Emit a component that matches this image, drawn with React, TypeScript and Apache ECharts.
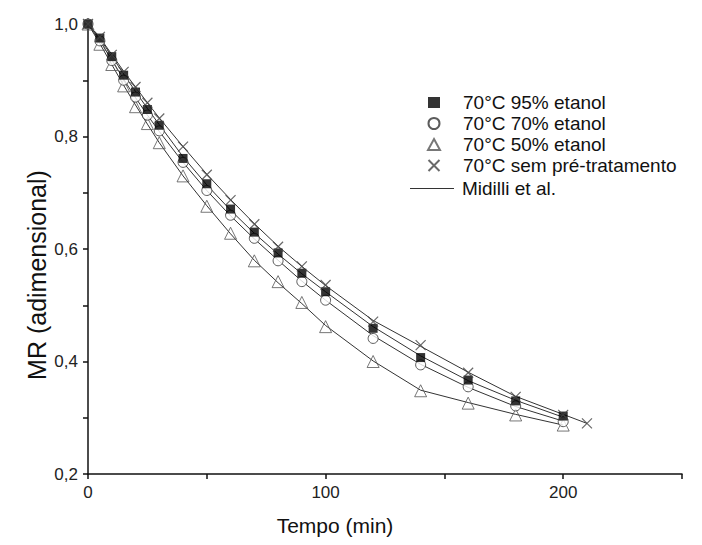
import React, { useEffect, useRef } from "react";
import * as echarts from "echarts";

const times = [0, 5, 10, 15, 20, 25, 30, 40, 50, 60, 70, 80, 90, 100, 120, 140, 160, 180, 200];
const timesX = [0, 5, 10, 15, 20, 25, 30, 40, 50, 60, 70, 80, 90, 100, 120, 140, 160, 180, 200, 210];

const etanol95 = [1.0, 0.975, 0.942, 0.909, 0.879, 0.848, 0.82, 0.761, 0.716, 0.671, 0.63, 0.593, 0.557, 0.524, 0.459, 0.407, 0.367, 0.33, 0.303];
const etanol70 = [1.0, 0.97, 0.935, 0.9, 0.87, 0.838, 0.81, 0.754, 0.704, 0.66, 0.619, 0.579, 0.542, 0.509, 0.441, 0.394, 0.355, 0.321, 0.293];
const etanol50 = [1.0, 0.964, 0.928, 0.89, 0.853, 0.823, 0.789, 0.73, 0.676, 0.628, 0.579, 0.542, 0.505, 0.462, 0.4, 0.348, 0.326, 0.305, 0.287];
const semPre = [1.0, 0.977, 0.945, 0.915, 0.888, 0.86, 0.832, 0.782, 0.732, 0.687, 0.644, 0.604, 0.569, 0.536, 0.471, 0.429, 0.38, 0.337, 0.305, 0.29];

const fit95 = [1.0, 0.974, 0.943, 0.911, 0.88, 0.85, 0.821, 0.764, 0.714, 0.669, 0.628, 0.591, 0.556, 0.524, 0.462, 0.41, 0.366, 0.331, 0.301];
const fit70 = [1.0, 0.97, 0.936, 0.902, 0.869, 0.838, 0.809, 0.754, 0.704, 0.659, 0.618, 0.58, 0.543, 0.509, 0.446, 0.395, 0.354, 0.32, 0.294];
const fit50 = [1.0, 0.965, 0.928, 0.891, 0.856, 0.822, 0.789, 0.73, 0.677, 0.627, 0.58, 0.54, 0.503, 0.464, 0.401, 0.349, 0.327, 0.306, 0.287];
const fitSem = [1.0, 0.976, 0.946, 0.916, 0.888, 0.86, 0.833, 0.782, 0.733, 0.688, 0.645, 0.605, 0.569, 0.535, 0.473, 0.427, 0.381, 0.338, 0.306, 0.29];

const seriesNames = ["70°C 95% etanol", "70°C 70% etanol", "70°C 50% etanol", "70°C sem pré-tratamento"];
const fitName = "Midilli et al.";

const xLabels = [0, 100, 200];
const yLabels = [0.2, 0.4, 0.6, 0.8, 1.0];

const pair = (xs: number[], ys: number[]) => xs.map((x, i) => [x, ys[i]]);

const FONT = "'Liberation Sans', Arial, Helvetica, sans-serif";
const CROSS = "path://M0,0L10,10M10,0L0,10";

export default function App() {
  const ref = useRef<HTMLDivElement>(null);
  useEffect(() => {
    document.body.style.margin = "0";
    if (!ref.current) return;
    const chart = echarts.init(ref.current, undefined, { renderer: "svg" });
    const fitLine = (data: number[][]) => ({
      type: "line",
      name: fitName,
      data,
      symbol: "none",
      smooth: false,
      z: 2,
      lineStyle: { color: "#333", width: 1 },
      itemStyle: { color: "#333" },
    });
    chart.setOption({
      animation: false,
      textStyle: { fontFamily: FONT },
      grid: { left: 88, right: 20, top: 24, bottom: 71 },
      legend: [
        {
          orient: "vertical",
          left: 422,
          top: 88,
          itemWidth: 12,
          itemHeight: 11,
          itemGap: 2,
          textStyle: { fontSize: 19, lineHeight: 19, color: "#111", fontFamily: FONT, padding: [0, 0, 0, 18] },
          data: seriesNames,
        },
        {
          orient: "vertical",
          left: 405,
          top: 174,
          itemWidth: 44,
          itemHeight: 1.2,
          textStyle: { fontSize: 19, lineHeight: 19, color: "#111", fontFamily: FONT, padding: [0, 0, 0, 3] },
          data: [{ name: fitName, icon: "rect", itemStyle: { color: "#333" } }],
        },
      ],
      xAxis: {
        type: "value",
        min: 0,
        max: 250,
        interval: 50,
        axisLine: { lineStyle: { color: "#111", width: 1.5 } },
        axisTick: { length: 5, lineStyle: { color: "#111", width: 1.5 } },
        splitLine: { show: false },
        axisLabel: {
          fontSize: 17,
          color: "#222",
          margin: 10,
          formatter: (v: number) => (xLabels.includes(v) ? String(v) : ""),
        },
      },
      yAxis: {
        type: "value",
        min: 0.2,
        max: 1.0,
        interval: 0.1,
        axisLine: { show: true, lineStyle: { color: "#111", width: 1.5 } },
        axisTick: { show: true, length: 5, lineStyle: { color: "#111", width: 1.5 } },
        splitLine: { show: false },
        axisLabel: {
          fontSize: 17,
          color: "#222",
          margin: 10,
          formatter: (v: number) => {
            const r = Math.round(v * 10) / 10;
            return yLabels.some((y) => Math.abs(y - r) < 1e-6) ? r.toFixed(1).replace(".", ",") : "";
          },
        },
      },
      graphic: [
        {
          type: "text",
          x: 37,
          y: 275,
          rotation: Math.PI / 2,
          style: { text: "MR (adimensional)", fill: "#111", font: `25px ${FONT}`, align: "center", verticalAlign: "middle" },
        },
        {
          type: "text",
          x: 335,
          y: 525,
          style: { text: "Tempo (min)", fill: "#111", font: `21px ${FONT}`, align: "center", verticalAlign: "middle" },
        },
      ],
      series: [
        fitLine(pair(times, fit95)),
        fitLine(pair(times, fit70)),
        fitLine(pair(times, fit50)),
        fitLine(pair(timesX, fitSem)),
        {
          type: "scatter",
          name: seriesNames[2],
          data: pair(times, etanol50),
          symbol: "triangle",
          symbolSize: 12,
          z: 3,
          itemStyle: { color: "rgba(255,255,255,0)", borderColor: "#555", borderWidth: 1 },
        },
        {
          type: "scatter",
          name: seriesNames[1],
          data: pair(times, etanol70),
          symbol: "circle",
          symbolSize: 10,
          z: 4,
          itemStyle: { color: "#fff", borderColor: "#333", borderWidth: 1 },
        },
        {
          type: "scatter",
          name: seriesNames[0],
          data: pair(times, etanol95),
          symbol: "rect",
          symbolSize: 9,
          z: 5,
          itemStyle: { color: "#000" },
        },
        {
          type: "scatter",
          name: seriesNames[3],
          data: pair(timesX, semPre),
          symbol: CROSS,
          symbolSize: 10,
          z: 6,
          itemStyle: { color: "rgba(0,0,0,0)", borderColor: "#444", borderWidth: 1.2 },
        },
      ],
    });
    return () => chart.dispose();
  }, []);
  return <div ref={ref} style={{ width: 702, height: 545 }} />;
}
